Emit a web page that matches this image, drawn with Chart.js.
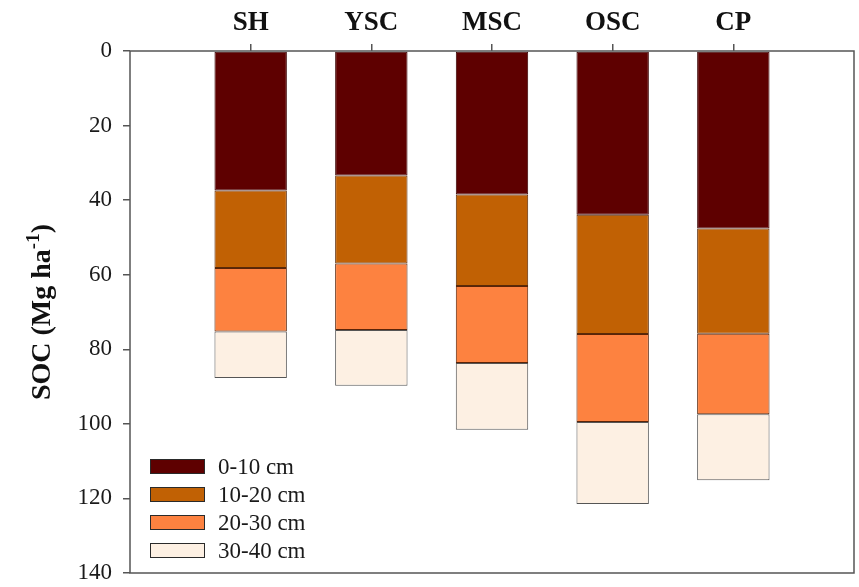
<!DOCTYPE html>
<html>
<head>
<meta charset="utf-8">
<script src="https://cdn.jsdelivr.net/npm/chart.js@4/dist/chart.umd.min.js"></script>
<style>
  html, body { margin: 0; padding: 0; background: #ffffff; }
  #wrap { width: 859px; height: 587px; position: relative; }
</style>
</head>
<body>
<div id="wrap"><canvas id="c" width="859" height="587"></canvas></div>
<script>
// Land-use categories and soil organic carbon stocks per depth layer (Mg ha-1)
const categories = ['SH', 'YSC', 'MSC', 'OSC', 'CP'];
const layerLabels = ['0-10 cm', '10-20 cm', '20-30 cm', '30-40 cm'];
const soc0to10  = [37.4, 33.4, 38.5, 43.9, 47.6];
const soc10to20 = [20.8, 23.6, 24.5, 32.0, 28.2];
const soc20to30 = [17.0, 17.8, 20.7, 23.6, 21.6];
const soc30to40 = [12.5, 15.0, 17.9, 22.0, 17.7];
const yTicks = [0, 20, 40, 60, 80, 100, 120, 140];

const layerColors = ['#5e0000', '#c16104', '#fd8240', '#fdf0e3'];
const layerBorders = ['#3a0000', '#5a2a08', '#5a2408', '#555555'];

// Blank slots at both ends leave a one-category margin on each side
const xLabels = [''].concat(categories, ['']);
const pad = arr => [null].concat(arr, [null]);

const layers = [soc0to10, soc10to20, soc20to30, soc30to40];
const datasets = layers.map((vals, i) => ({
  label: layerLabels[i],
  data: pad(vals),
  backgroundColor: layerColors[i],
  borderColor: layerBorders[i],
  borderWidth: 1,
  borderSkipped: false,
  barPercentage: 0.6,
  categoryPercentage: 1.0
}));

const serif = '"Liberation Serif", "Times New Roman", serif';

// Frame around the plotting area
const framePlugin = {
  id: 'frame',
  afterDraw(chart) {
    const a = chart.chartArea, ctx = chart.ctx;
    ctx.save();
    ctx.strokeStyle = '#555555';
    ctx.lineWidth = 1.5;
    ctx.strokeRect(a.left, a.top, a.right - a.left, a.bottom - a.top);
    ctx.restore();
  }
};

// Rotated y-axis title with a superscript exponent
const yTitlePlugin = {
  id: 'yTitle',
  afterDraw(chart) {
    const a = chart.chartArea, ctx = chart.ctx;
    const main = 'bold 28px ' + serif;
    const sup = 'bold 19px ' + serif;
    const p1 = 'SOC (Mg ha', p2 = '-1', p3 = ')';
    ctx.save();
    ctx.fillStyle = '#111111';
    ctx.font = main;
    const w1 = ctx.measureText(p1).width, w3 = ctx.measureText(p3).width;
    ctx.font = sup;
    const w2 = ctx.measureText(p2).width;
    const total = w1 + w2 + w3;
    ctx.translate(50, (a.top + a.bottom) / 2);
    ctx.rotate(-Math.PI / 2);
    ctx.textBaseline = 'alphabetic';
    ctx.textAlign = 'left';
    let x = -total / 2;
    ctx.font = main;
    ctx.fillText(p1, x, 0);
    x += w1;
    ctx.font = sup;
    ctx.fillText(p2, x, -11);
    x += w2;
    ctx.font = main;
    ctx.fillText(p3, x, 0);
    ctx.restore();
  }
};

// Legend drawn inside the lower-left corner of the plot
const insideLegend = {
  id: 'insideLegend',
  afterDraw(chart) {
    const a = chart.chartArea, ctx = chart.ctx;
    const boxX = a.left + 20, boxW = 55, boxH = 15, rowGap = 28;
    const firstTop = a.bottom - 114;
    ctx.save();
    ctx.font = '23px ' + serif;
    ctx.textBaseline = 'middle';
    ctx.textAlign = 'left';
    chart.data.datasets.forEach((ds, i) => {
      const y = firstTop + i * rowGap;
      ctx.fillStyle = ds.backgroundColor;
      ctx.fillRect(boxX, y, boxW, boxH);
      ctx.strokeStyle = '#2a2a2a';
      ctx.lineWidth = 1;
      ctx.strokeRect(boxX + 0.5, y + 0.5, boxW - 1, boxH - 1);
      ctx.fillStyle = '#1a1a1a';
      ctx.fillText(ds.label, boxX + boxW + 13, y + boxH / 2 + 1);
    });
    ctx.restore();
  }
};

new Chart(document.getElementById('c'), {
  type: 'bar',
  data: { labels: xLabels, datasets },
  options: {
    responsive: false,
    animation: false,
    layout: { padding: { left: 0, right: 1, top: 0, bottom: 14 } },
    plugins: {
      legend: { display: false },
      tooltip: { enabled: false }
    },
    scales: {
      x: {
        position: 'top',
        stacked: true,
        offset: false,
        border: { display: false },
        grid: {
          offset: false,
          drawOnChartArea: false,
          drawTicks: true,
          tickLength: 7,
          lineWidth: 1.5,
          color: ctx => (ctx.index === 0 || ctx.index === xLabels.length - 1) ? 'rgba(0,0,0,0)' : '#555555'
        },
        ticks: {
          autoSkip: false,
          maxRotation: 0,
          padding: 5,
          color: '#111111',
          font: { family: serif, size: 27, weight: 'bold' }
        },
        afterFit(scale) { scale.height = 51; }
      },
      y: {
        stacked: true,
        reverse: true,
        min: 0,
        max: 140,
        afterBuildTicks(scale) { scale.ticks = yTicks.map(v => ({ value: v })); },
        border: { display: false },
        grid: {
          drawOnChartArea: false,
          drawTicks: true,
          tickLength: 7,
          lineWidth: 1.5,
          color: '#555555'
        },
        ticks: {
          padding: 11,
          color: '#1a1a1a',
          font: { family: serif, size: 23 }
        },
        afterFit(scale) {
          scale.width = 130;
          scale.paddingTop = 0;
          scale.paddingBottom = 0;
        }
      }
    }
  },
  plugins: [framePlugin, yTitlePlugin, insideLegend]
});
</script>
</body>
</html>
